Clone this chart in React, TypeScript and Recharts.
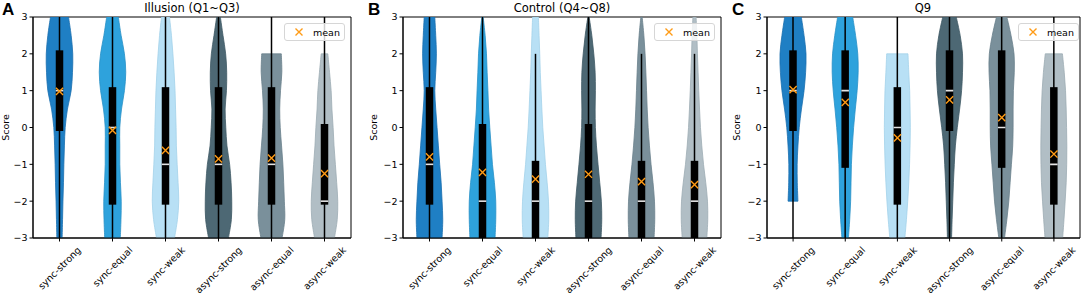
import React from 'react';
import { ComposedChart, Bar, Scatter, XAxis, YAxis, Legend, ReferenceArea } from 'recharts';

const categories = ['sync-strong', 'sync-equal', 'sync-weak', 'async-strong', 'async-equal', 'async-weak'];
const levels = [-3, -2.5, -2, -1.5, -1, -0.5, 0, 0.5, 1, 1.5, 2, 2.5, 3];
const yTicks = [-3, -2, -1, 0, 1, 2, 3];

// A: Illusion (Q1~Q3)
const illusionMean = [0.98, -0.08, -0.62, -0.85, -0.83, -1.25];
const illusionMedian = [1, 0, -1, -1, -1, -2];
const illusionQ1 = [0, -2, -2, -2, -2, -2];
const illusionQ3 = [2, 1, 1, 1, 1, 0];
const illusionWhiskerLo = [-3, -3, -3, -3, -3, -3];
const illusionWhiskerHi = [3, 3, 3, 3, 3, 3];
const illusionMin = [-3, -3, -3, -3, -3, -3];
const illusionMax = [3, 3, 3, 3, 2, 2];
const illusionDensity = [
  [0.2, 0.23, 0.26, 0.3, 0.33, 0.37, 0.43, 0.6, 0.88, 0.98, 1.0, 0.88, 0.68],
  [0.59, 0.64, 0.66, 0.6, 0.55, 0.55, 0.55, 0.68, 0.9, 1.0, 0.9, 0.65, 0.44],
  [0.68, 0.9, 1.0, 0.95, 0.88, 0.82, 0.8, 0.76, 0.72, 0.65, 0.56, 0.45, 0.3],
  [0.75, 0.97, 1.0, 0.95, 0.84, 0.64, 0.55, 0.5, 0.6, 0.62, 0.54, 0.34, 0.14],
  [0.8, 1.0, 0.97, 0.92, 0.86, 0.76, 0.66, 0.62, 0.68, 0.78, 0.74, null, null],
  [0.75, 0.96, 1.0, 0.92, 0.82, 0.72, 0.65, 0.56, 0.5, 0.38, 0.25, null, null],
];

// B: Control (Q4~Q8)
const controlMean = [-0.8, -1.22, -1.4, -1.27, -1.47, -1.55];
const controlMedian = [-1, -2, -2, -2, -2, -2];
const controlQ1 = [-2, -3, -3, -3, -3, -3];
const controlQ3 = [1, 0, -1, 0, -1, -1];
const controlWhiskerLo = [-3, -3, -3, -3, -3, -3];
const controlWhiskerHi = [3, 3, 2, 3, 2, 2];
const controlMin = [-3, -3, -3, -3, -3, -3];
const controlMax = [3, 3, 3, 3, 3, 3];
const controlDensity = [
  [0.95, 1.0, 0.95, 0.88, 0.77, 0.67, 0.57, 0.47, 0.4, 0.47, 0.52, 0.47, 0.4],
  [0.95, 1.0, 1.0, 0.9, 0.75, 0.65, 0.55, 0.46, 0.41, 0.35, 0.3, 0.2, 0.05],
  [0.93, 1.0, 0.98, 0.88, 0.75, 0.65, 0.55, 0.48, 0.42, 0.36, 0.32, 0.27, 0.22],
  [0.95, 1.0, 0.97, 0.85, 0.72, 0.6, 0.52, 0.5, 0.52, 0.5, 0.4, 0.25, 0.05],
  [0.95, 1.0, 0.98, 0.87, 0.72, 0.6, 0.5, 0.43, 0.38, 0.33, 0.27, 0.18, 0.05],
  [0.93, 1.0, 0.98, 0.85, 0.68, 0.55, 0.45, 0.38, 0.32, 0.27, 0.22, 0.18, 0.12],
];

// C: Q9
const q9Mean = [1.03, 0.68, -0.28, 0.75, 0.27, -0.72];
const q9Median = [1, 1, 0, 1, 0, -1];
const q9Q1 = [0, -1, -2, 0, -1, -2];
const q9Q3 = [2, 2, 1, 2, 2, 1];
const q9WhiskerLo = [-3, -3, -3, -3, -3, -3];
const q9WhiskerHi = [3, 3, 3, 3, 3, 3];
const q9Min = [-2, -3, -3, -3, -3, -3];
const q9Max = [3, 3, 2, 3, 3, 2];
const q9Density = [
  [null, null, 0.38, 0.33, 0.32, 0.38, 0.48, 0.65, 0.85, 0.97, 1.0, 0.85, 0.64],
  [0.25, 0.35, 0.42, 0.45, 0.48, 0.55, 0.65, 0.78, 0.92, 1.0, 0.97, 0.8, 0.58],
  [0.58, 0.7, 0.8, 0.88, 0.94, 0.98, 1.0, 0.98, 0.95, 0.88, 0.82, null, null],
  [0.16, 0.2, 0.25, 0.3, 0.37, 0.45, 0.6, 0.78, 0.93, 1.0, 1.0, 0.82, 0.52],
  [0.22, 0.4, 0.55, 0.65, 0.75, 0.85, 0.88, 0.88, 0.9, 0.97, 0.95, 0.72, 0.4],
  [0.68, 0.78, 0.87, 0.95, 0.99, 1.0, 0.98, 0.95, 0.9, 0.8, 0.66, null, null],
];

const FILLS = ['#1f7fc4', '#2ea2dc', '#b8e0f5', '#4d6874', '#7a909b', '#b1bec5'];
const EDGES = ['#1a6fae', '#2890c6', '#a3d2ea', '#3f5964', '#6a808b', '#9dacb4'];
const MEAN_COLOR = '#ff9b15';
const FONT = '"DejaVu Sans", sans-serif';
const TICK_FS = 9.5;

function buildRows(mean, median, q1, q3, wlo, whi, vmin, vmax, dens) {
  return categories.map((cat, i) => ({
    cat,
    mean: mean[i],
    median: median[i],
    q1: q1[i],
    q3: q3[i],
    wlo: wlo[i],
    whi: whi[i],
    vmin: vmin[i],
    vmax: vmax[i],
    dens: dens[i],
  }));
}

let measureCtx: CanvasRenderingContext2D | null = null;
function textWidth(s: string) {
  if (!measureCtx) measureCtx = document.createElement('canvas').getContext('2d');
  if (!measureCtx) return s.length * 5.5;
  measureCtx.font = `${TICK_FS}px "DejaVu Sans"`;
  return measureCtx.measureText(s).width;
}

// catmull-rom through points, emitted as cubic segments (no leading M)
function smooth(pts: number[][]) {
  let d = '';
  for (let i = 0; i < pts.length - 1; i++) {
    const p0 = pts[Math.max(0, i - 1)];
    const p1 = pts[i];
    const p2 = pts[i + 1];
    const p3 = pts[Math.min(pts.length - 1, i + 2)];
    const c1x = p1[0] + (p2[0] - p0[0]) / 6;
    const c1y = p1[1] + (p2[1] - p0[1]) / 6;
    const c2x = p2[0] - (p3[0] - p1[0]) / 6;
    const c2y = p2[1] - (p3[1] - p1[1]) / 6;
    d += `C${c1x},${c1y} ${c2x},${c2y} ${p2[0]},${p2[1]}`;
  }
  return d;
}

function ViolinShape(props: any) {
  const { x, y, width, height, payload, index } = props;
  if (!payload || !isFinite(y) || !isFinite(height)) return null;
  const top = Math.min(y, y + height);
  const unit = Math.abs(height) / (payload.vmax - payload.vmin);
  const py = (v: number) => top + (payload.vmax - v) * unit;
  const cx = x + width / 2;
  const half = width * 0.25;
  const pts = levels
    .map((lv, i) => ({ lv, w: payload.dens[i] }))
    .filter((p) => p.w != null && p.lv >= payload.vmin && p.lv <= payload.vmax);
  const right = pts.slice().reverse().map((p) => [cx + p.w * half, py(p.lv)]);
  const left = pts.map((p) => [cx - p.w * half, py(p.lv)]);
  const d = `M${right[0][0]},${right[0][1]}${smooth(right)}L${left[0][0]},${left[0][1]}${smooth(left)}Z`;

  const plotTop = py(3);
  const plotBottom = py(-3);
  const boxW = 7.5;
  const boxTop = Math.max(plotTop, py(payload.q3) - 3.5);
  const boxBottom = Math.min(plotBottom, py(payload.q1) + 3.5);
  const my = py(payload.median);
  return (
    <g>
      <path d={d} fill={FILLS[index]} stroke={EDGES[index]} strokeWidth={0.8} />
      <line x1={cx} x2={cx} y1={py(payload.whi)} y2={py(payload.wlo)} stroke="#000" strokeWidth={1.5} />
      <rect x={cx - boxW / 2} y={boxTop} width={boxW} height={boxBottom - boxTop} fill="#000" />
      <line x1={cx - boxW / 2} x2={cx + boxW / 2} y1={my} y2={my} stroke="#e4e4e4" strokeWidth={1.6} />
    </g>
  );
}

function MeanMark(props: any) {
  const { cx, cy } = props;
  if (!isFinite(cx) || !isFinite(cy)) return null;
  const s = 3.6;
  return (
    <path
      d={`M${cx - s},${cy - s}L${cx + s},${cy + s}M${cx - s},${cy + s}L${cx + s},${cy - s}`}
      stroke={MEAN_COLOR}
      strokeWidth={1.4}
      fill="none"
    />
  );
}

function XTick(props: any) {
  const { x, y, payload } = props;
  const label = String(payload.value);
  const L = textWidth(label);
  const cy = y + 1 + (L + 10.5) * 0.3535;
  return (
    <text
      x={x}
      y={cy}
      textAnchor="middle"
      dominantBaseline="central"
      transform={`rotate(-45 ${x} ${cy})`}
      fontSize={TICK_FS}
      fontFamily={FONT}
      fill="#000"
    >
      {label}
    </text>
  );
}

function MeanLegend() {
  return (
    <div
      style={{
        width: 61,
        height: 18,
        boxSizing: 'border-box',
        border: '1px solid #d6d6d6',
        borderRadius: 3,
        background: 'rgba(255,255,255,0.8)',
        display: 'flex',
        alignItems: 'center',
        fontFamily: FONT,
        fontSize: 9.5,
        color: '#000',
      }}
    >
      <svg width={10} height={10} style={{ marginLeft: 9 }}>
        <path d="M1.5,1.5L8.5,8.5M1.5,8.5L8.5,1.5" stroke={MEAN_COLOR} strokeWidth={1.4} />
      </svg>
      <span style={{ marginLeft: 9 }}>mean</span>
    </div>
  );
}

const fmt = (v: number) => (v < 0 ? '\u2212' + Math.abs(v) : String(v));

function Panel({ rows, left, width, axisWidth, rightMargin, scoreOffset }) {
  return (
    <div style={{ position: 'absolute', left, top: 0 }}>
      <ComposedChart
        width={width}
        height={298}
        data={rows}
        margin={{ top: 17, right: rightMargin, bottom: 0, left: 0 }}
        barCategoryGap={0}
        barGap={0}
      >
        <XAxis
          dataKey="cat"
          interval={0}
          height={60}
          tickSize={3.5}
          tickLine={{ stroke: '#000' }}
          axisLine={{ stroke: '#000' }}
          tick={<XTick />}
        />
        <YAxis
          type="number"
          domain={[-3, 3]}
          ticks={yTicks}
          allowDataOverflow
          width={axisWidth}
          tickSize={3.5}
          tickMargin={2}
          tickFormatter={fmt}
          tickLine={{ stroke: '#000' }}
          axisLine={{ stroke: '#000' }}
          tick={{ fill: '#000', fontSize: TICK_FS, fontFamily: FONT }}
          label={{
            value: 'Score',
            angle: -90,
            position: 'insideLeft',
            offset: scoreOffset,
            style: { textAnchor: 'middle', fontSize: TICK_FS, fontFamily: FONT, fill: '#000' },
          }}
        />
        <Legend
          layout="vertical"
          align="center"
          verticalAlign="middle"
          wrapperStyle={{ top: 23, left: axisWidth + 251, width: 61, height: 18 }}
          content={() => <MeanLegend />}
        />
        <Bar dataKey={(d: any) => [d.vmin, d.vmax]} shape={<ViolinShape />} isAnimationActive={false} legendType="none" />
        <Scatter dataKey="mean" shape={<MeanMark />} isAnimationActive={false} legendType="none" />
        <ReferenceArea
          x1={categories[0]}
          x2={categories[categories.length - 1]}
          y1={yTicks[0]}
          y2={yTicks[yTicks.length - 1]}
          fill="none"
          fillOpacity={0}
          stroke="#000"
          strokeWidth={1}
          ifOverflow="visible"
        />
      </ComposedChart>
    </div>
  );
}

const illusionRows = buildRows(illusionMean, illusionMedian, illusionQ1, illusionQ3, illusionWhiskerLo, illusionWhiskerHi, illusionMin, illusionMax, illusionDensity);
const controlRows = buildRows(controlMean, controlMedian, controlQ1, controlQ3, controlWhiskerLo, controlWhiskerHi, controlMin, controlMax, controlDensity);
const q9Rows = buildRows(q9Mean, q9Median, q9Q1, q9Q3, q9WhiskerLo, q9WhiskerHi, q9Min, q9Max, q9Density);

export default function App() {
  return (
    <div style={{ position: 'absolute', left: 0, top: 0, width: 1084, height: 298, background: '#fff', overflow: 'hidden' }}>
      <Panel rows={illusionRows} left={0} width={360} axisWidth={33} rightMargin={9} scoreOffset={6} />
      <Panel rows={controlRows} left={364} width={366} axisWidth={39} rightMargin={9} scoreOffset={10} />
      <Panel rows={q9Rows} left={728} width={356} axisWidth={39} rightMargin={4} scoreOffset={9} />
      <svg width={1084} height={298} style={{ position: 'absolute', left: 0, top: 0, pointerEvents: 'none' }}>
        <g fontFamily='"Liberation Sans", Arial, sans-serif' fontWeight="bold" fontSize={17} fill="#000">
          <text x={2} y={15}>A</text>
          <text x={368} y={15}>B</text>
          <text x={732} y={15}>C</text>
        </g>
        <g fontFamily={FONT} fontSize={11.5} fill="#000" textAnchor="middle">
          <text x={192} y={11.7}>Illusion (Q1~Q3)</text>
          <text x={562} y={11.7}>Control (Q4~Q8)</text>
          <text x={923} y={11.7}>Q9</text>
        </g>
      </svg>
    </div>
  );
}
